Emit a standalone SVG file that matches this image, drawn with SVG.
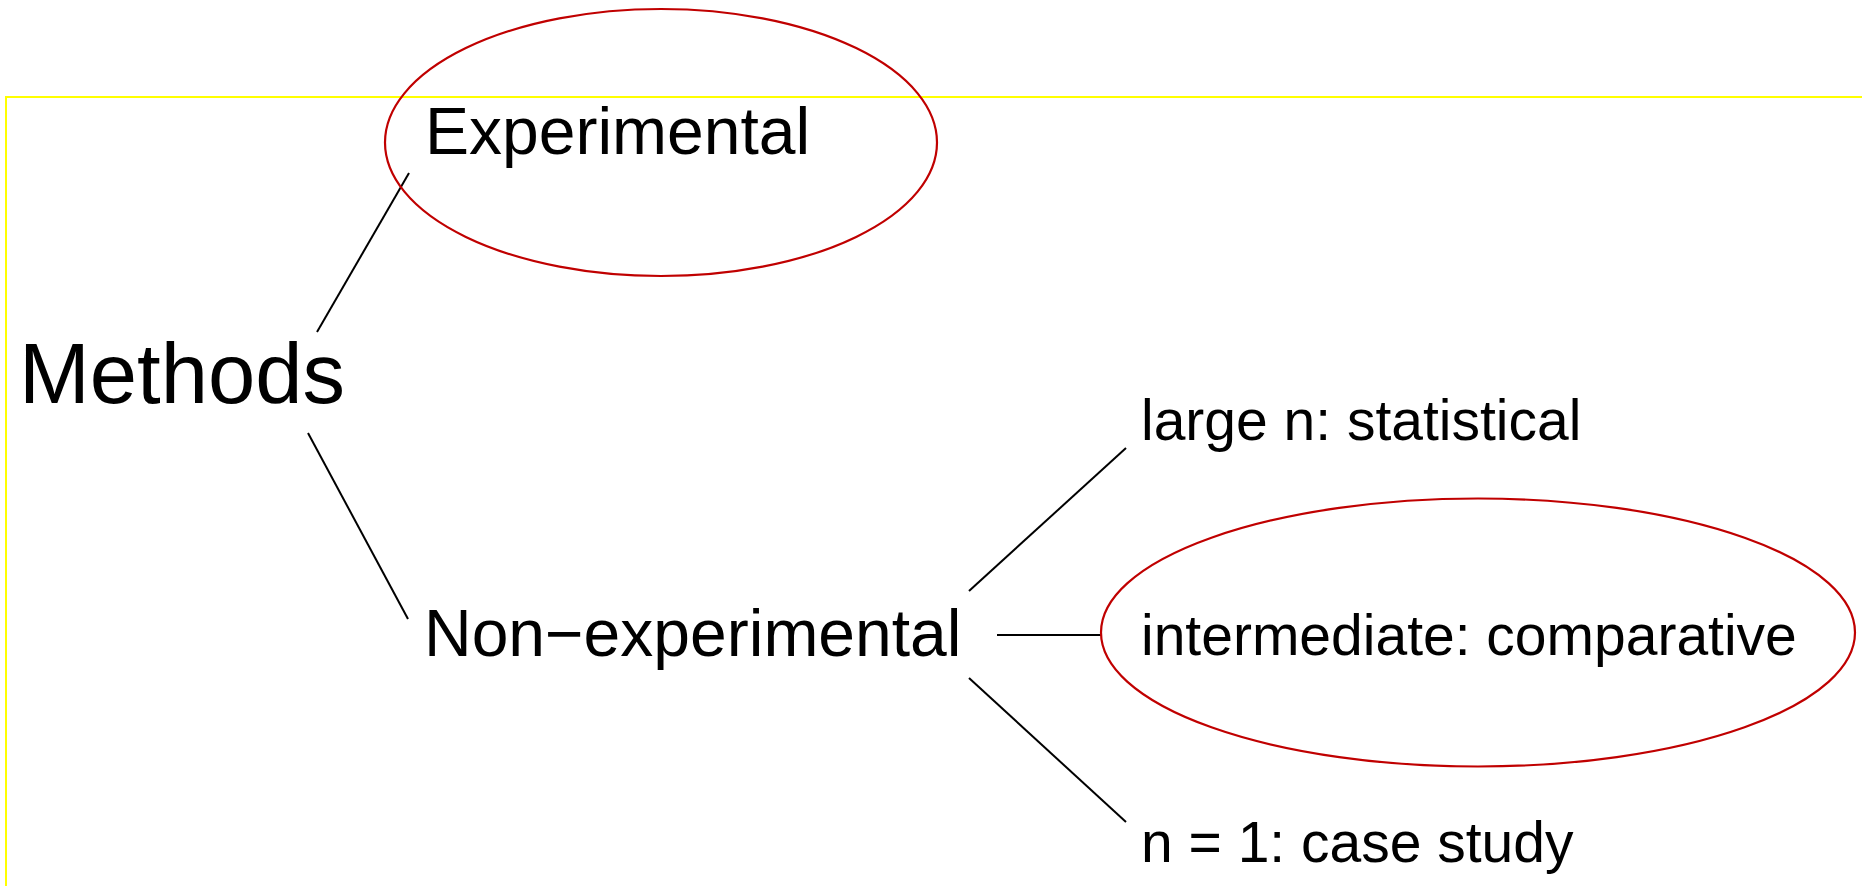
<svg xmlns="http://www.w3.org/2000/svg" width="1862" height="886" viewBox="0 0 1862 886">
<style>
.t{font-family:"Liberation Sans",Arial,sans-serif;fill:#000}
.big{font-size:85px}
.mid{font-size:66px}
.sm{font-size:57px}
.c{stroke:#000;stroke-width:2;fill:none}
.hl{stroke:#c00000;stroke-width:2.2;fill:none}
</style>
<rect x="0" y="0" width="1862" height="886" fill="#fff"/>
<rect id="frame" x="6" y="97" width="1870" height="800" fill="none" stroke="#ffff00" stroke-width="2"/>
<g id="connectors">
<line class="c" x1="317" y1="332" x2="409" y2="173"/>
<line class="c" x1="308" y1="433" x2="408" y2="619"/>
<line class="c" x1="969" y1="591" x2="1126" y2="448"/>
<line class="c" x1="997" y1="635" x2="1101" y2="635"/>
<line class="c" x1="969" y1="678" x2="1126" y2="822"/>
</g>
<g id="methods"><text class="t big" x="19" y="403">Methods</text></g>
<g id="experimental">
<text class="t mid" x="425" y="154">Experimental</text>
<ellipse class="hl" cx="661" cy="142.5" rx="276" ry="133.5"/>
</g>
<g id="nonexperimental"><text class="t mid" x="424" y="656">Non−experimental</text></g>
<g id="large"><text class="t sm" x="1141" y="440">large n: statistical</text></g>
<g id="intermediate">
<text class="t sm" x="1141" y="655">intermediate: comparative</text>
<ellipse class="hl" cx="1478" cy="632.5" rx="377" ry="134"/>
</g>
<g id="case"><text class="t sm" x="1141" y="862">n = 1: case study</text></g>
</svg>
